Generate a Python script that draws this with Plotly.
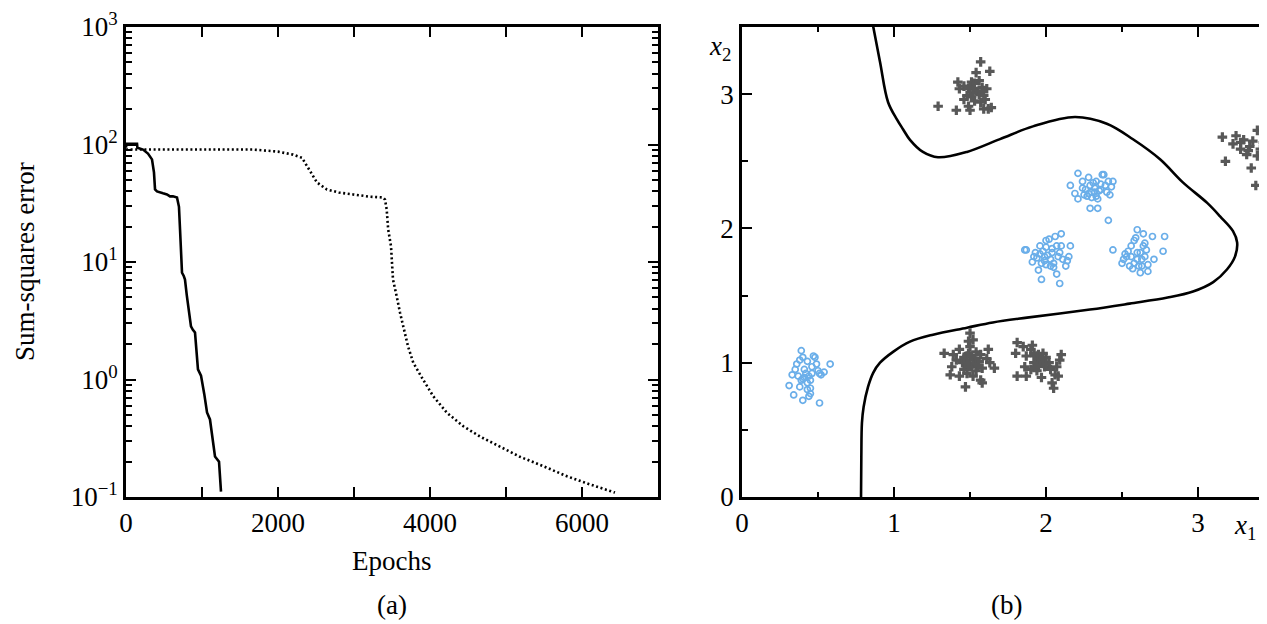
import plotly.graph_objects as go

# ---------------- data: panel (a) ----------------
solid_epochs = [0, 5, 145, 150, 224, 289, 342, 368, 382, 408, 487, 539, 579, 618, 671, 697, 711,
                737, 760, 776, 800, 830, 855, 880, 908, 947, 987, 1030, 1066, 1105, 1140, 1171, 1224, 1250]
solid_error = [94, 101.5, 101.5, 93.9, 90.6, 83.8, 74.7, 57.9, 41.5, 39.9, 38.4, 37.6, 36.2, 36.2, 35.4, 29.5, 18.9,
               8.1, 7.6, 7.1, 5.2, 3.6, 2.83, 2.65, 2.51, 1.22, 1.08, 0.75, 0.524, 0.457, 0.30, 0.221, 0.20, 0.111]

dotted_epochs = [0, 500, 1000, 1671, 2000, 2197, 2316, 2420, 2513, 2645, 2800, 2987, 3200, 3382, 3408, 3430,
                 3450, 3487, 3513, 3562, 3605, 3711, 3780, 3908, 4043, 4224, 4438, 4658, 4921, 5184, 5491, 5803, 6105, 6434]
dotted_error = [90.6, 90.6, 90.6, 90.6, 87, 82, 77, 60, 47.5, 41.4, 39, 37.6, 36, 35.4, 34, 28,
                18.9, 13.6, 7.1, 5.1, 3.72, 1.91, 1.39, 1.0, 0.72, 0.52, 0.40, 0.327, 0.27, 0.22, 0.183, 0.15, 0.128, 0.109]

a_xticks = [0, 2000, 4000, 6000]
a_xticktext = ["0", "2000", "4000", "6000"]
a_yticks = [0.1, 1, 10, 100, 1000]
a_yticktext = ["10<sup>−1</sup>", "10<sup>0</sup>", "10<sup>1</sup>", "10<sup>2</sup>", "10<sup>3</sup>"]

# ---------------- data: panel (b) ----------------
boundary_x = [0.862, 0.908, 0.961, 1.02, 1.059, 1.105, 1.19, 1.289, 1.48, 1.697, 1.914, 2.19, 2.40, 2.572, 2.75,
              2.90, 3.06, 3.145, 3.23, 3.257, 3.243, 3.19, 3.10, 2.967, 2.80, 2.55, 2.289, 1.875, 1.65, 1.48,
              1.257, 1.105, 0.996, 0.908, 0.863, 0.829, 0.80, 0.789, 0.785, 0.783]
boundary_y = [3.51, 3.24, 2.94, 2.81, 2.739, 2.66, 2.57, 2.53, 2.57, 2.665, 2.76, 2.83, 2.78, 2.664, 2.515,
              2.343, 2.19, 2.09, 1.98, 1.896, 1.79, 1.694, 1.60, 1.53, 1.485, 1.44, 1.396, 1.336, 1.30, 1.261,
              1.209, 1.157, 1.083, 1.0, 0.925, 0.82, 0.67, 0.552, 0.3, 0.0]

# class 1 (open circles)
circ_x = [0.39, 0.31, 0.34, 0.35, 0.36, 0.37, 0.38, 0.39, 0.40, 0.40, 0.41, 0.43, 0.43, 0.44, 0.44, 0.45, 0.45,
          0.46, 0.47, 0.48, 0.49, 0.50, 0.51, 0.51, 0.52, 0.54, 0.58, 0.33, 0.38, 0.43, 0.46, 0.41, 0.45, 0.42, 0.40,
          1.86, 1.87, 1.91, 1.93, 1.94, 1.96, 1.96, 1.97, 1.98, 1.99, 2.00, 2.00, 2.02, 2.03, 2.04, 2.05, 2.06,
          2.07, 2.07, 2.08, 2.09, 2.10, 2.10, 2.11, 2.13, 2.14, 2.15, 2.16, 1.95, 1.97, 2.03, 2.05, 2.09, 2.00,
          1.92, 2.01, 1.99, 2.04,
          2.21, 2.16, 2.19, 2.21, 2.24, 2.28, 2.26, 2.29, 2.31, 2.33, 2.37, 2.38, 2.41, 2.44, 2.43, 2.42, 2.40,
          2.36, 2.33, 2.34, 2.34, 2.29, 2.27, 2.30, 2.32, 2.39, 2.41, 2.25, 2.24, 2.36, 2.30, 2.28, 2.32, 2.35,
          2.44, 2.50, 2.51, 2.52, 2.53, 2.54, 2.55, 2.56, 2.58, 2.59, 2.60, 2.60, 2.61, 2.62, 2.63, 2.64, 2.65,
          2.65, 2.66, 2.67, 2.67, 2.70, 2.71, 2.77, 2.78, 2.58, 2.62, 2.56, 2.64, 2.60, 2.57, 2.63]
circ_y = [1.09, 0.83, 0.76, 0.95, 0.99, 0.90, 1.02, 0.87, 1.04, 0.72, 0.95, 1.01, 0.80, 0.90, 0.75, 0.87, 0.77,
          0.92, 1.05, 1.04, 0.99, 0.94, 0.70, 0.92, 0.91, 0.93, 0.99, 0.91, 0.82, 0.85, 0.97, 0.89, 0.81, 0.92, 0.88,
          1.84, 1.84, 1.75, 1.82, 1.78, 1.87, 1.81, 1.74, 1.83, 1.79, 1.91, 1.86, 1.92, 1.77, 1.82, 1.74, 1.94,
          1.66, 1.87, 1.79, 1.59, 1.96, 1.87, 1.77, 1.72, 1.76, 1.79, 1.87, 1.69, 1.62, 1.72, 1.71, 1.82, 1.73,
          1.79, 1.80, 1.76, 1.85,
          2.41, 2.32, 2.26, 2.22, 2.35, 2.38, 2.29, 2.32, 2.34, 2.35, 2.40, 2.40, 2.35, 2.35, 2.31, 2.25, 2.27,
          2.29, 2.24, 2.22, 2.15, 2.15, 2.24, 2.23, 2.27, 2.32, 2.06, 2.25, 2.30, 2.33, 2.27, 2.26, 2.30, 2.28,
          1.84, 1.74, 1.77, 1.81, 1.79, 1.83, 1.72, 1.87, 1.91, 1.93, 1.99, 1.82, 1.72, 1.67, 1.77, 1.96, 1.89,
          1.79, 1.84, 1.68, 1.73, 1.94, 1.77, 1.83, 1.94, 1.74, 1.82, 1.79, 1.87, 1.77, 1.70, 1.72]

# class 2 (plus signs)
plus_x = [1.29, 1.41, 1.42, 1.43, 1.46, 1.48, 1.49, 1.50, 1.51, 1.52, 1.53, 1.54, 1.56, 1.57, 1.58, 1.59, 1.60,
          1.61, 1.62, 1.63, 1.64, 1.49, 1.53, 1.57, 1.46, 1.56, 1.51, 1.59, 1.55, 1.52, 1.58, 1.50,
          1.33, 1.38, 1.39, 1.41, 1.43, 1.45, 1.46, 1.47, 1.48, 1.49, 1.50, 1.50, 1.51, 1.52, 1.53, 1.54, 1.56,
          1.57, 1.58, 1.58, 1.61, 1.62, 1.63, 1.66, 1.48, 1.52, 1.43, 1.54, 1.37, 1.47, 1.49, 1.57, 1.50, 1.52,
          1.46, 1.55, 1.49, 1.51,
          1.81, 1.80, 1.85, 1.87, 1.86, 1.90, 1.91, 1.92, 1.93, 1.94, 1.95, 1.96, 1.97, 1.98, 1.99, 2.00, 2.02,
          2.03, 2.04, 2.05, 2.06, 2.07, 2.08, 2.09, 2.10, 1.81, 1.87, 1.90, 1.94, 1.97, 1.92, 1.95, 1.98, 1.93, 2.00,
          3.16, 3.18, 3.23, 3.25, 3.28, 3.30, 3.32, 3.34, 3.35, 3.36, 3.38, 3.39, 3.41, 3.43, 3.44, 3.28, 3.33,
          3.39, 3.46, 3.48, 3.50]
plus_y = [2.91, 2.88, 3.09, 3.04, 3.06, 2.99, 2.91, 2.88, 3.09, 3.04, 2.95, 3.16, 3.00, 3.24, 3.05, 2.89, 2.96,
          3.04, 2.89, 3.17, 2.90, 3.04, 3.08, 2.94, 2.96, 3.10, 2.98, 2.99, 3.02, 3.01, 3.02, 3.05,
          1.07, 0.97, 1.06, 1.02, 1.10, 1.00, 0.95, 0.82, 1.05, 1.16, 1.22, 1.12, 0.97, 0.90, 1.03, 1.08, 1.01,
          0.87, 0.96, 0.85, 1.03, 1.10, 1.00, 0.96, 0.92, 1.17, 0.90, 0.94, 0.91, 1.01, 1.07, 1.06, 1.02, 0.99,
          1.04, 0.98, 0.97, 1.05,
          1.15, 1.07, 1.12, 1.05, 0.97, 1.10, 1.13, 1.00, 1.05, 0.94, 1.06, 1.01, 0.89, 1.07, 0.97, 1.04, 1.00,
          0.95, 0.85, 0.81, 0.91, 0.97, 0.90, 1.02, 1.06, 0.90, 0.90, 0.95, 1.00, 1.02, 1.07, 0.98, 1.00, 0.97, 0.99,
          2.68, 2.50, 2.63, 2.69, 2.59, 2.66, 2.55, 2.61, 2.45, 2.65, 2.32, 2.73, 2.59, 2.64, 2.54, 2.64, 2.58,
          2.54, 2.60, 2.66, 2.57]

b_ticks = [0, 1, 2, 3]
b_ticktext = ["0", "1", "2", "3"]

# ---------------- figure ----------------
# the page body has an 8px margin, so the figure is drawn 8px smaller and
# every screen position below is given relative to the shifted origin
OFF = 8
W, H = 1267 - OFF, 624 - OFF
FONT = "Liberation Serif"
FSIZE = 27
BLUE = "#6aaee9"
GREY = "#585858"


def px(x):
    return (x - OFF) / W


def py(y):
    return 1 - (y - OFF) / H


ax_left = [px(126), px(658)]
ax_right = [px(742), min(1.0, px(1266))]
ax_y = [py(497), py(27)]

fig = go.Figure()

fig.add_trace(go.Scatter(x=solid_epochs, y=solid_error, mode="lines",
                         line=dict(color="black", width=2.6), xaxis="x", yaxis="y"))
fig.add_trace(go.Scatter(x=dotted_epochs, y=dotted_error, mode="lines",
                         line=dict(color="black", width=2.6, dash="2px,2.6px"), xaxis="x", yaxis="y"))

fig.add_trace(go.Scatter(x=boundary_x, y=boundary_y, mode="lines", line_shape="spline",
                         line=dict(color="black", width=2.6), xaxis="x2", yaxis="y2"))
fig.add_trace(go.Scatter(x=plus_x, y=plus_y, mode="markers",
                         marker=dict(symbol="cross", size=8, color=GREY, line=dict(width=0)),
                         xaxis="x2", yaxis="y2"))
fig.add_trace(go.Scatter(x=circ_x, y=circ_y, mode="markers",
                         marker=dict(symbol="circle-open", size=6, color=BLUE, line=dict(width=1.7, color=BLUE)),
                         xaxis="x2", yaxis="y2"))

tfont = dict(family=FONT, size=FSIZE, color="black")
common = dict(showgrid=False, zeroline=False, showline=True, linecolor="black", linewidth=2.6,
              ticks="inside", tickcolor="black", tickwidth=2.4, ticklen=10, automargin=False,
              tickfont=tfont)

fig.update_layout(
    width=W, height=H, margin=dict(l=0, r=0, t=0, b=0, pad=0), autosize=False,
    paper_bgcolor="white", plot_bgcolor="white", showlegend=False,
    font=dict(family=FONT, size=FSIZE, color="black"),
    xaxis=dict(domain=ax_left, anchor="y", range=[0, 7000], tickmode="array",
               tickvals=a_xticks, ticktext=a_xticktext, mirror="ticks",
               minor=dict(ticks="inside", ticklen=10, tickwidth=2.4, tickcolor="black", dtick=1000, showgrid=False),
               **common),
    yaxis=dict(domain=ax_y, anchor="x", type="log", range=[-1, 3], tickmode="array",
               tickvals=a_yticks, ticktext=a_yticktext, mirror="ticks",
               minor=dict(ticks="inside", ticklen=6, tickwidth=2, tickcolor="black", dtick="D1", showgrid=False),
               **common),
    xaxis2=dict(domain=ax_right, anchor="y2", range=[0, 3.447], tickmode="array",
                tickvals=b_ticks, ticktext=b_ticktext, mirror="ticks",
                minor=dict(ticks="inside", ticklen=5, tickwidth=2, tickcolor="black", dtick=0.5, showgrid=False),
                **common),
    yaxis2=dict(domain=ax_y, anchor="x2", range=[0, 3.5], tickmode="array",
                tickvals=b_ticks, ticktext=b_ticktext, mirror=False,
                minor=dict(ticks="inside", ticklen=6, tickwidth=2, tickcolor="black", dtick=0.5, showgrid=False),
                **common),
    yaxis3=dict(domain=ax_y, anchor="x2", overlaying="y2", side="right", range=[0, 3.5],
                tickmode="array", tickvals=b_ticks, showticklabels=False, showline=False, automargin=False,
                showgrid=False, zeroline=False, ticks="inside", tickcolor="black", tickwidth=2, ticklen=6,
                minor=dict(ticks="inside", ticklen=4, tickwidth=2, tickcolor="black", dtick=0.5, showgrid=False)),
)

ann = [
    dict(text="Epochs", x=(ax_left[0] + ax_left[1]) / 2, y=py(561)),
    dict(text="Sum-squares error", x=px(25), y=py(262), textangle=-90),
    dict(text="(a)", x=px(392), y=py(605)),
    dict(text="(b)", x=px(1007), y=py(605)),
    dict(text="<i>x</i><sub>2</sub>", x=px(720), y=py(48)),
    dict(text="<i>x</i><sub>1</sub>", x=px(1245), y=py(527)),
]
for a in ann:
    fig.add_annotation(xref="paper", yref="paper", showarrow=False,
                       xanchor="center", yanchor="middle", font=dict(family=FONT, size=FSIZE, color="black"), **a)

fig.write_html("out.html")
